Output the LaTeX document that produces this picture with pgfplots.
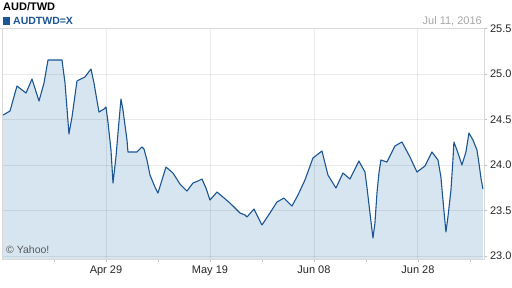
\documentclass[border=0pt]{standalone}
\usepackage{fontspec}
\setmainfont{Liberation Sans}
\usepackage{pgfplots}
\usepackage{pgfplotstable}
\pgfplotsset{compat=1.18}
\definecolor{linecol}{HTML}{1B5694}
\definecolor{fillcol}{HTML}{D6E5F0}
\pgfplotstableread{
d v
0.2 24.549
1.54 24.593
2.88 24.868
4.62 24.791
5.77 24.945
7.12 24.703
8.08 24.901
8.85 25.154
11.54 25.154
12.12 24.901
12.88 24.341
13.46 24.527
14.42 24.923
15.96 24.967
17.12 25.055
17.69 24.901
18.65 24.582
19.62 24.615
20.0 24.637
20.38 24.473
20.96 24.165
21.35 23.802
21.92 24.088
22.31 24.352
22.88 24.725
23.27 24.604
23.65 24.44
24.04 24.275
24.23 24.143
25.96 24.143
26.92 24.198
27.31 24.176
27.88 24.055
28.46 23.89
29.42 23.758
30.0 23.692
30.77 23.835
31.54 23.978
32.88 23.912
34.23 23.791
35.58 23.714
36.73 23.802
37.69 23.824
38.46 23.846
39.23 23.747
40.0 23.615
41.35 23.703
42.5 23.648
43.85 23.582
45.77 23.473
46.73 23.451
47.12 23.429
48.46 23.516
50.0 23.341
51.54 23.473
52.88 23.593
54.23 23.637
55.77 23.549
56.92 23.67
58.27 23.835
59.81 24.077
61.54 24.154
62.69 23.89
64.23 23.747
65.58 23.912
66.92 23.846
68.65 24.044
68.85 24.022
69.81 23.923
70.19 23.758
70.77 23.473
71.35 23.198
71.73 23.363
72.12 23.692
72.5 23.912
72.88 24.055
74.04 24.033
75.58 24.209
76.92 24.253
78.46 24.088
79.81 23.923
81.35 23.989
82.69 24.143
83.85 24.055
84.42 23.868
84.81 23.615
85.38 23.264
85.77 23.429
86.35 23.725
86.73 24.055
86.92 24.253
87.5 24.165
88.46 24.0
89.23 24.143
89.81 24.352
90.58 24.275
91.35 24.165
91.73 24.022
92.12 23.857
92.5 23.736
}\fxdata
\begin{document}
\begin{tikzpicture}[x=1pt,y=1pt]
\path[use as bounding box] (0,0) rectangle (512,-288);
\begin{axis}[
  at={(2pt,-259pt)}, anchor=south west,
  scale only axis, width=482.5pt, height=230.5pt,
  xmin=0, xmax=92.8, ymin=22.967, ymax=25.5,
  axis on top,
  axis line style={draw=black!15},
  xtick={20,40,60,80},
  xticklabels={Apr 29, May 19, Jun 08, Jun 28},
  minor xtick={10,30,50,70,90},
  ytick={23,23.5,24,24.5,25,25.5},
  yticklabels={23.0,23.5,24.0,24.5,25.0,25.5},
  xtick pos=lower, ytick pos=right, yticklabel pos=right,
  tick align=outside,
  major tick length=3pt, minor tick length=3pt,
  tick style={draw=black!25, line width=0.8pt},
  grid=major,
  major grid style={draw=black, opacity=0.08, line width=0.9pt},
  tick label style={font=\fontsize{11}{13}\selectfont, text=black!85},
  yticklabel style={xshift=-1pt},
]
\addplot[draw=none, fill=fillcol] table[x=d,y=v] {\fxdata} \closedcycle;
\addplot[linecol, line width=1.1pt, line join=round] table[x=d,y=v] {\fxdata};
\end{axis}
\node[anchor=base west, font=\bfseries\fontsize{11}{13}\selectfont, inner sep=0] at (3,-10.5) {AUD/TWD};
\fill[linecol] (3,-17) rectangle (9.5,-25);
\node[anchor=base west, font=\bfseries\fontsize{10.5}{12}\selectfont, text=linecol, inner sep=0] at (13,-24.5) {AUDTWD=X};
\node[anchor=base east, font=\fontsize{11}{13}\selectfont, text=black!35, inner sep=0] at (482,-24.5) {Jul 11, 2016};
\node[anchor=base west, font=\fontsize{10.5}{12}\selectfont, text=black!65, inner sep=0] at (6,-254) {© Yahoo!};
\draw[black!15, line width=0.8pt] (0,-28.5) -- (2,-28.5);
\end{tikzpicture}
\end{document}
